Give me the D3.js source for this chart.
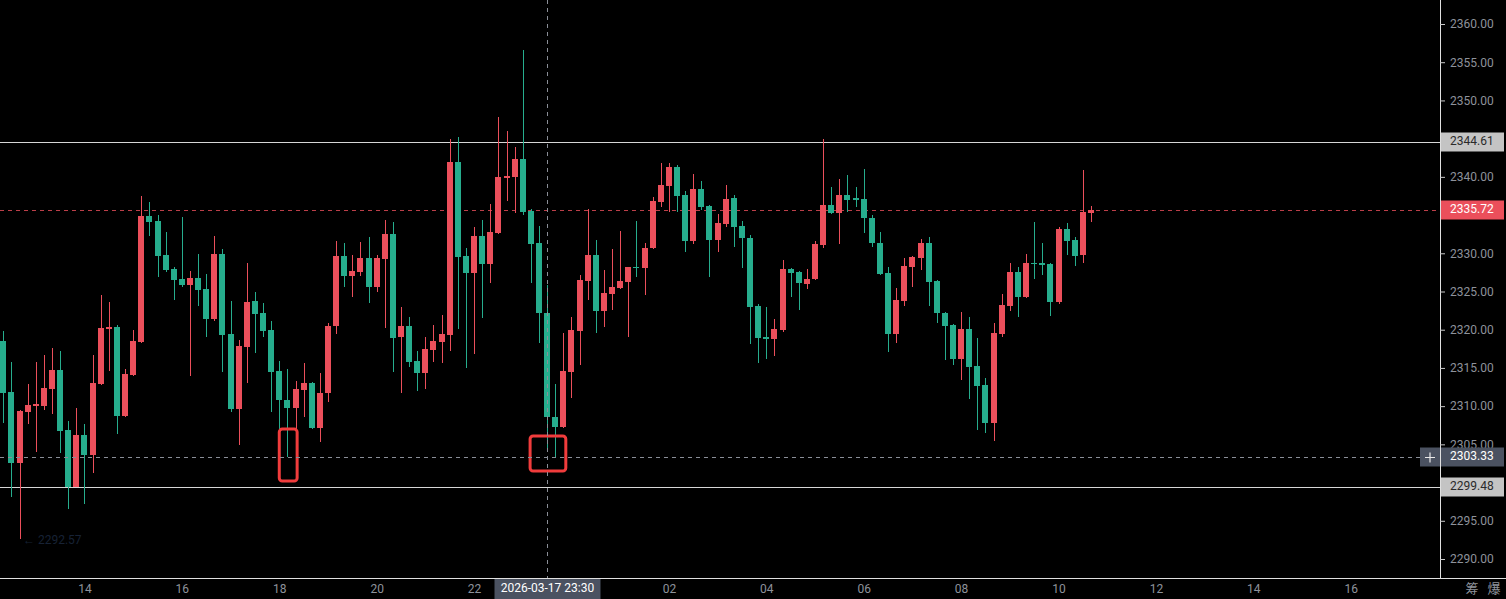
<!DOCTYPE html>
<html><head><meta charset="utf-8">
<script src="https://cdn.jsdelivr.net/npm/d3@7"></script>
<style>html,body{margin:0;padding:0;background:#000;overflow:hidden}svg{display:block}</style>
</head><body><svg id="c" width="1506" height="599"></svg>
<script>
// ---- data ----
const startTime = "2026-03-17 12:20";   // time of first candle
const stepMinutes = 10;                  // candle period
const opens = [
2318.53,2311.85,2302.56,2309.23,2310.02,2310.02,2312.25,2314.73,2306.87,2299.48,
2306.22,2303.61,2312.90,2320.10,2320.36,2308.71,2314.08,2318.39,2334.88,2334.22,
2329.77,2327.94,2326.64,2325.85,2326.77,2325.33,2321.40,2329.91,2319.44,2309.63,
2317.74,2323.76,2322.19,2319.97,2314.60,2310.80,2309.76,2312.11,2313.03,2307.14,
2311.71,2320.49,2329.65,2327.03,2327.55,2329.38,2325.59,2329.25,2332.52,2319.05,
2320.49,2315.91,2314.34,2317.35,2318.39,2319.31,2341.94,2329.65,2327.42,2332.26,
2328.60,2332.65,2339.85,2339.98,2342.34,2335.53,2331.35,2322.19,2308.58,2307.27,
2314.47,2319.83,2326.37,2329.77,2322.45,2324.67,2325.46,2326.24,2328.21,2328.07,
2330.69,2336.71,2338.80,2341.29,2337.63,2331.61,2338.41,2336.19,2331.74,2333.83,
2337.23,2333.57,2332.00,2323.10,2319.05,2318.78,2319.97,2327.94,2327.55,2325.98,
2326.64,2331.08,2336.32,2335.27,2337.63,2337.23,2337.10,2334.62,2331.35,2327.42,
2319.44,2323.76,2328.21,2329.38,2331.35,2326.37,2322.19,2320.62,2316.17,2320.10,
2315.25,2312.77,2307.79,2319.44,2323.10,2327.55,2324.28,2328.73,2328.73,2328.60,
2323.63,2333.18,2331.74,2329.77,2335.27];
const highs = [
2319.83,2315.78,2309.49,2312.90,2315.78,2316.69,2317.61,2317.22,2308.05,2309.76,
2307.66,2316.69,2324.54,2323.63,2320.60,2314.86,2319.97,2337.50,2336.71,2335.01,
2332.78,2328.21,2334.75,2327.68,2329.91,2327.29,2332.26,2330.56,2323.76,2318.65,
2328.73,2324.93,2323.50,2321.14,2315.91,2314.86,2313.29,2315.65,2313.10,2314.34,
2320.88,2331.61,2331.35,2329.78,2331.48,2332.13,2329.78,2334.36,2334.09,2322.97,
2321.67,2317.22,2319.05,2320.62,2321.93,2344.95,2345.21,2330.69,2333.44,2334.36,
2336.45,2347.83,2346.00,2343.91,2356.60,2335.79,2333.57,2325.85,2312.90,2319.57,
2321.67,2327.16,2335.79,2331.74,2327.81,2330.56,2332.92,2328.21,2334.22,2331.35,
2337.36,2341.81,2341.81,2341.55,2338.15,2340.37,2339.46,2336.32,2335.14,2338.93,
2337.63,2334.22,2332.39,2323.36,2322.97,2321.40,2329.12,2328.07,2327.70,2327.94,
2331.61,2344.95,2338.67,2339.72,2340.24,2338.67,2341.03,2335.01,2332.78,2328.21,
2325.46,2329.38,2329.64,2331.87,2332.13,2326.50,2322.30,2320.75,2322.32,2321.67,
2318.92,2313.68,2320.88,2324.67,2328.73,2328.21,2329.91,2334.09,2331.35,2328.73,
2333.44,2333.96,2332.13,2340.90,2336.19];
const lows = [
2307.79,2298.10,2292.57,2307.66,2304.00,2309.49,2308.97,2303.87,2296.54,2299.40,
2297.20,2301.31,2312.80,2314.60,2306.35,2308.60,2313.95,2318.30,2332.26,2326.90,
2327.55,2323.89,2325.59,2313.95,2323.10,2319.05,2321.14,2314.47,2309.23,2304.91,
2313.03,2316.95,2319.05,2309.23,2306.87,2303.33,2306.87,2308.58,2307.00,2305.31,
2310.54,2319.44,2325.59,2324.28,2327.03,2323.50,2324.93,2320.23,2314.47,2311.71,
2315.12,2311.98,2312.25,2315.78,2315.65,2317.22,2320.10,2314.99,2316.82,2321.53,
2326.11,2332.50,2336.84,2335.27,2335.01,2326.11,2318.26,2304.52,2303.33,2307.14,
2311.06,2315.38,2323.89,2319.57,2320.36,2322.58,2325.33,2319.05,2326.90,2324.54,
2330.60,2336.06,2335.40,2335.40,2330.17,2331.22,2335.66,2326.90,2330.17,2333.44,
2330.82,2328.07,2318.13,2315.65,2316.17,2316.56,2319.70,2324.28,2322.58,2325.33,
2326.50,2330.69,2335.14,2331.22,2335.40,2336.06,2332.65,2330.82,2327.16,2317.08,
2318.26,2323.10,2325.59,2327.81,2323.10,2320.88,2316.04,2315.38,2313.42,2310.93,
2306.87,2306.49,2305.44,2319.05,2322.45,2321.67,2324.15,2326.64,2327.16,2321.80,
2323.36,2329.77,2328.34,2328.73,2334.09];
const closes = [
2311.71,2302.56,2309.36,2310.15,2310.28,2312.38,2314.73,2306.74,2299.48,2306.22,
2303.61,2313.03,2320.23,2320.36,2308.71,2314.21,2318.53,2334.88,2334.09,2329.64,
2327.81,2326.50,2325.85,2326.77,2325.20,2321.40,2329.91,2319.31,2309.63,2317.87,
2323.63,2322.06,2319.83,2314.47,2310.80,2309.76,2312.25,2313.03,2307.14,2311.71,
2320.49,2329.65,2327.03,2327.68,2329.38,2325.59,2329.38,2332.52,2318.92,2320.49,
2315.78,2314.34,2317.48,2318.53,2319.44,2341.94,2329.51,2327.42,2332.26,2328.60,
2332.79,2339.98,2340.11,2342.34,2335.40,2331.22,2322.19,2308.58,2307.27,2314.60,
2319.97,2326.50,2329.77,2322.45,2324.80,2325.59,2326.37,2328.21,2328.07,2330.69,
2336.84,2338.93,2341.29,2337.50,2331.61,2338.41,2336.06,2331.74,2333.96,2337.10,
2333.44,2332.00,2322.97,2318.92,2318.78,2320.10,2327.94,2327.42,2326.11,2326.64,
2331.22,2336.32,2335.27,2337.63,2336.97,2337.10,2334.62,2331.35,2327.29,2319.44,
2323.89,2328.34,2329.51,2331.35,2326.24,2322.19,2320.49,2316.17,2320.10,2315.12,
2312.64,2307.79,2319.57,2323.23,2327.55,2324.28,2328.73,2328.60,2328.47,2323.63,
2333.18,2331.61,2329.64,2335.40,2335.72];
const yTicks = [2290,2295,2305,2310,2315,2320,2325,2330,2340,2350,2355,2360];
const levelLines = [2344.61, 2299.48];
const lastPrice = 2335.72;
const crossPrice = 2303.33;
const crossTime = "2026-03-17 23:30";
const lowMark = 2292.57;
const boxTimes = [["2026-03-17 18:00","2026-03-17 18:22"],["2026-03-17 23:09","2026-03-17 23:53"]];
const boxPrices = [[2307.0,2300.2],[2306.1,2301.5]];
const cornerTexts = ["筹", "爆"];

// ---- layout ----
const W = 1506, H = 599, plotR = 1440, plotB = 578;
const RED = "#eb4f5b", GREEN = "#26ad8d", AXIS_TXT = "#8e929b", FONT = "Roboto, 'Noto Sans', sans-serif";
const parse = d3.timeParse("%Y-%m-%d %H:%M");
const t0 = parse(startTime);
const MIN = 60000;
const candles = opens.map((o,i)=>({t:new Date(+t0 + i*stepMinutes*MIN), o, h:highs[i], l:lows[i], c:closes[i]}));

const x = d3.scaleTime()
  .domain([new Date(+t0 - 4.066*MIN), new Date(+t0 + 1770*MIN)])
  .range([0, plotR]);
const y = d3.scaleLinear().domain([2290, 2360]).range([559, 24]);
const step = x(new Date(+t0 + stepMinutes*MIN)) - x(t0);
const bw = step*0.76;

const svg = d3.select("#c");
svg.append("rect").attr("width",W).attr("height",H).attr("fill","#000");

const plot = svg.append("g");
// level lines
plot.selectAll("line.lvl").data(levelLines).join("line")
  .attr("x1",0).attr("x2",plotR).attr("y1",d=>Math.round(y(d))+0.5).attr("y2",d=>Math.round(y(d))+0.5)
  .attr("stroke","#d6d6d6").attr("stroke-width",1);
// last price dashed line
plot.append("line").attr("x1",0).attr("x2",plotR)
  .attr("y1",Math.round(y(lastPrice))+0.5).attr("y2",Math.round(y(lastPrice))+0.5)
  .attr("stroke",RED).attr("stroke-opacity",0.8).attr("stroke-dasharray","4,4");

// candles
const cg = plot.append("g").attr("shape-rendering","crispEdges");
const col = d => d.c >= d.o ? RED : GREEN;
cg.selectAll("line.w").data(candles).join("line")
  .attr("x1",d=>Math.round(x(d.t))+0.5).attr("x2",d=>Math.round(x(d.t))+0.5)
  .attr("y1",d=>y(d.h)).attr("y2",d=>y(d.l)).attr("stroke",col).attr("stroke-width",1);
cg.selectAll("rect.b").data(candles).join("rect")
  .attr("x",d=>Math.round(x(d.t)) - Math.floor(bw/2))
  .attr("width",Math.round(bw))
  .attr("y",d=>y(Math.max(d.o,d.c)))
  .attr("height",d=>Math.max(1.5, Math.abs(y(d.o)-y(d.c))))
  .attr("fill",col);

// low marker
plot.append("text").attr("x",23).attr("y",y(lowMark)+1).attr("dominant-baseline","middle")
  .attr("font-family",FONT).attr("font-size",12).attr("fill","#172235").text("← " + lowMark.toFixed(2));

// red annotation boxes
plot.selectAll("rect.box").data(boxTimes).join("rect")
  .attr("x",d=>x(parse(d[0]))).attr("width",d=>x(parse(d[1]))-x(parse(d[0])))
  .attr("y",(d,i)=>y(boxPrices[i][0])).attr("height",(d,i)=>y(boxPrices[i][1])-y(boxPrices[i][0]))
  .attr("rx",3).attr("fill","none").attr("stroke","#f03c3c").attr("stroke-width",3);

// crosshair
const cx = Math.round(x(parse(crossTime)))+0.5;
const cy = Math.round(y(crossPrice))+0.5;
plot.append("line").attr("x1",cx).attr("x2",cx).attr("y1",0).attr("y2",plotB)
  .attr("stroke","#8a8e97").attr("stroke-dasharray","4,4");
plot.append("line").attr("x1",0).attr("x2",1420).attr("y1",cy).attr("y2",cy)
  .attr("stroke","#8a8e97").attr("stroke-dasharray","4,4");

// axes frame
svg.append("line").attr("x1",0).attr("x2",W).attr("y1",plotB+0.5).attr("y2",plotB+0.5).attr("stroke","#e0e0e0");
svg.append("line").attr("x1",plotR+0.5).attr("x2",plotR+0.5).attr("y1",0).attr("y2",plotB).attr("stroke","#e0e0e0");

// y axis
const ya = svg.append("g").attr("transform",`translate(${plotR},0)`)
  .call(d3.axisRight(y).tickValues(yTicks).tickFormat(d3.format(".2f")).tickSize(5).tickPadding(5));
ya.select(".domain").remove();
ya.selectAll(".tick line").attr("stroke","#c8c8c8");
ya.selectAll(".tick text").attr("fill",AXIS_TXT).attr("font-family",FONT).attr("font-size",12);

// x axis (the tick under the crosshair time label is hidden, as in the source)
const xTickVals = x.ticks(d3.timeHour.every(2)).filter(t => Math.abs(x(t) - cx) > 56);
const xa = svg.append("g").attr("transform",`translate(0,${plotB})`)
  .call(d3.axisBottom(x).tickValues(xTickVals).tickFormat(d3.timeFormat("%H")).tickSize(0).tickPadding(6));
xa.select(".domain").remove();
xa.selectAll(".tick text").attr("fill",AXIS_TXT).attr("font-family",FONT).attr("font-size",12);

svg.selectAll("text.corner").data(cornerTexts).join("text")
  .attr("x",(d,i)=>1472 + i*22).attr("y",589).attr("text-anchor","middle").attr("dominant-baseline","middle")
  .attr("font-family","'Noto Sans CJK SC', sans-serif").attr("font-size",13).attr("fill",AXIS_TXT).text(d=>d);

// price labels on axis
function priceLabel(v, bg, fg){
  const yy = Math.round(y(v));
  svg.append("rect").attr("x",plotR+1).attr("y",yy-9.5).attr("width",63).attr("height",19).attr("fill",bg);
  svg.append("text").attr("x",plotR+10).attr("y",yy).attr("dominant-baseline","middle")
    .attr("font-family",FONT).attr("font-size",12).attr("fill",fg).text(v.toFixed(2));
}
levelLines.forEach(v=>priceLabel(v,"#c4c4c4","#2a2a2a"));
priceLabel(lastPrice, RED, "#ffffff");
priceLabel(crossPrice, "#4b5261", "#ffffff");
// crosshair "+" box
svg.append("rect").attr("x",1420).attr("y",Math.round(y(crossPrice))-9.5).attr("width",20).attr("height",19).attr("fill","#4b5261");
svg.append("path").attr("d",`M1425,${cy}H1435M1430,${cy-5}V${cy+5}`).attr("stroke","#e8e8e8").attr("stroke-width",1.2);

// crosshair time label
const tl = d3.timeFormat("%Y-%m-%d %H:%M")(parse(crossTime));
svg.append("rect").attr("x",cx-53).attr("y",plotB+1).attr("width",106).attr("height",20).attr("fill","#4b5261");
svg.append("text").attr("x",cx).attr("y",plotB+11).attr("text-anchor","middle").attr("dominant-baseline","middle")
  .attr("font-family",FONT).attr("font-size",12).attr("fill","#ffffff").text(tl);
</script></body></html>
